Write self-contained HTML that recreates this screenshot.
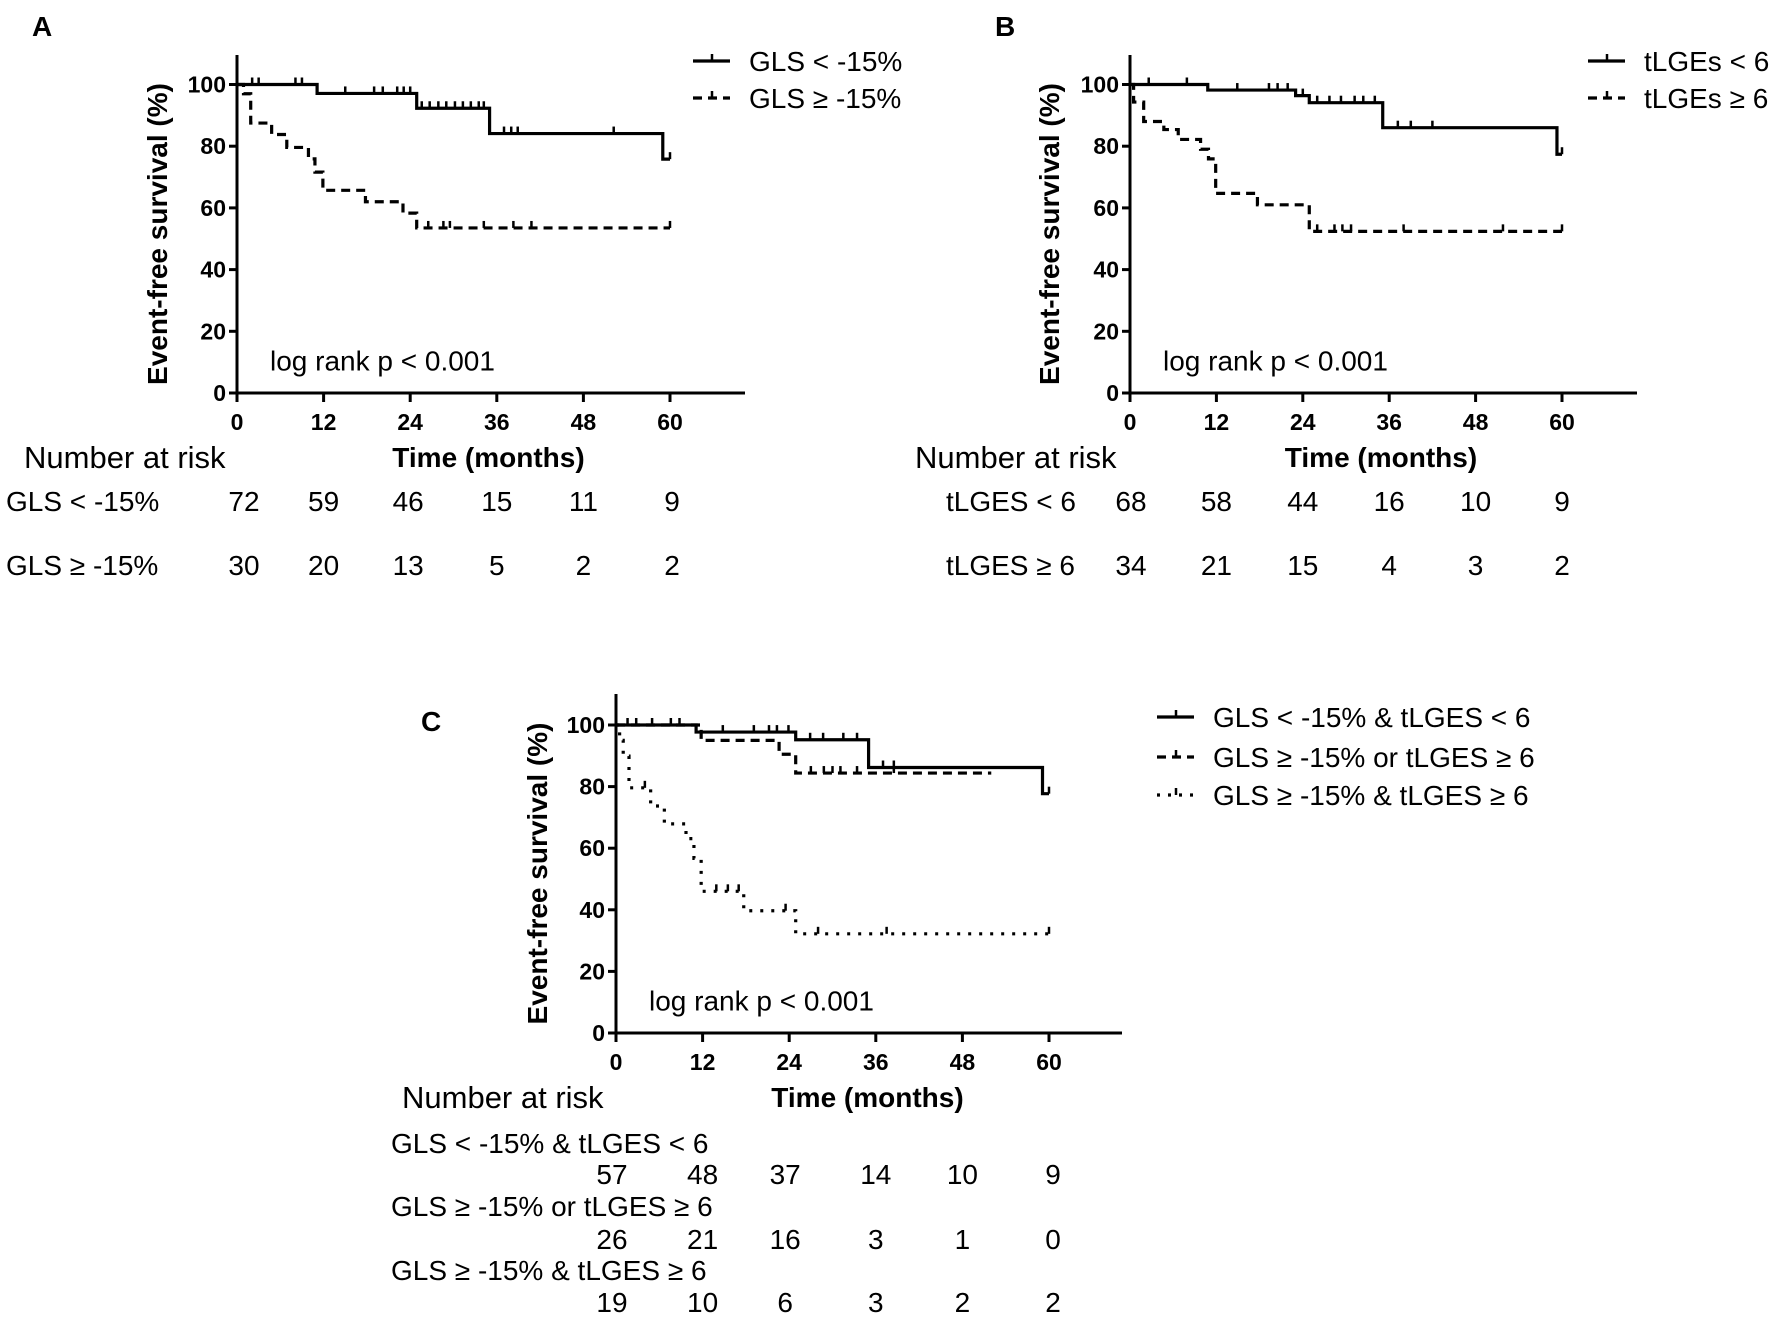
<!DOCTYPE html>
<html><head><meta charset="utf-8"><style>
html,body{margin:0;padding:0;background:#fff;}
svg{display:block;font-family:"Liberation Sans",Arial,sans-serif;}
.tk{font-weight:bold;font-size:23px;}
.tt{font-weight:bold;font-size:28px;}
.tx{font-size:28px;}
.lt{font-size:31px;}
.lg{font-size:28px;font-weight:bold;}
</style></head><body>
<svg id="fig" width="1772" height="1320" viewBox="0 0 1772 1320" xmlns="http://www.w3.org/2000/svg"></svg>
<script>
// ---- Panel A data ----
const aSolidT = [0, 11.1, 24.9, 35, 59];
const aSolidS = [100, 97.1, 92.3, 84.1, 75.8];
const aSolidEnd = 60;
const aSolidC = [2.1, 3, 8.1, 9, 15, 19, 20.2, 22.2, 23.1, 24, 25.6, 26.7, 27.9, 29, 30.2, 31.3, 32.4, 33.5, 34.2, 37, 38, 38.9, 52.2, 60];
const aDashT = [0, 0.9, 1.9, 4.8, 6.9, 9.9, 10.8, 11.9, 17.8, 23, 24.9];
const aDashS = [100, 97, 87.5, 83.8, 79.6, 75.9, 71.6, 65.7, 62, 58.3, 53.5];
const aDashEnd = 60;
const aDashC = [26.5, 28.6, 29.5, 34.2, 38.3, 40.8, 60];
// ---- Panel B data ----
const bSolidT = [0, 10.8, 23, 24.9, 35.1, 59.3];
const bSolidS = [100, 98.2, 96.4, 94.1, 86, 77.4];
const bSolidEnd = 60;
const bSolidC = [2.6, 7.9, 14.9, 19.3, 20.5, 21.9, 24, 26, 27.7, 29.3, 31.2, 32.4, 34, 37.2, 39, 42, 60];
const bDashT = [0, 0.5, 1.9, 4.7, 6.7, 9.8, 10.9, 11.9, 17.7, 24.9];
const bDashS = [100, 94.3, 88, 85.4, 82.2, 79, 75.9, 64.7, 61, 52.4];
const bDashEnd = 60;
const bDashC = [26, 28.4, 29.5, 30.7, 38, 51.8, 60];
// ---- Panel C data ----
const cSolidT = [0, 11.1, 24.9, 35, 59.1];
const cSolidS = [100, 97.7, 95.2, 86.2, 77.7];
const cSolidEnd = 60;
const cSolidC = [1.6, 2.8, 5, 7.6, 8.8, 14.8, 19.1, 21.2, 22.3, 23.9, 26.9, 28.7, 31.5, 33.4, 37, 38.5, 60];
const cDashT = [0, 11.8, 22.6, 24.9];
const cDashS = [100, 95, 90.5, 84.4];
const cDashEnd = 52;
const cDashC = [27, 28.8, 30, 31.1, 33.4, 38.5];
const cDotT = [0, 0.5, 1, 1.8, 4.8, 6.7, 9.7, 10.8, 11.8, 17.7, 24.9];
const cDotS = [100, 95, 89.9, 79.6, 73.7, 67.9, 63.1, 56.7, 46, 39.7, 32.2];
const cDotEnd = 60;
const cDotC = [4, 13.9, 15.5, 17, 23.5, 28, 37.5, 60];
// ---- axis tick labels ----
const xTicks = [0, 12, 24, 36, 48, 60];
const yTicks = [0, 20, 40, 60, 80, 100];
// ---- number at risk ----
const riskA1 = [72, 59, 46, 15, 11, 9];
const riskA2 = [30, 20, 13, 5, 2, 2];
const riskB1 = [68, 58, 44, 16, 10, 9];
const riskB2 = [34, 21, 15, 4, 3, 2];
const riskC1 = [57, 48, 37, 14, 10, 9];
const riskC2 = [26, 21, 16, 3, 1, 0];
const riskC3 = [19, 10, 6, 3, 2, 2];

const NS = "http://www.w3.org/2000/svg";
const svg = document.getElementById('fig');
function mk(tag, attrs, parent, text){
  const e = document.createElementNS(NS, tag);
  for (const k in attrs) e.setAttribute(k, attrs[k]);
  if (text !== undefined) e.textContent = text;
  (parent || svg).appendChild(e);
  return e;
}
const DASH = {solid: null, dash: "9 6", dot: "3 8"};

function panel(p){
  const g = mk('g', {});
  
  
  const sx = t => p.x0 + t * (p.x60 - p.x0) / 60;
  const sy = v => p.y0 - v * (p.y0 - p.y100) / 100;
  const ax = mk('path', {d: `M${p.x0},${p.top} V${p.y0} H${p.xend}`, fill:'none', stroke:'#000', 'stroke-width':3}, g);
  
  
  yTicks.forEach(v => {
    mk('line', {x1:p.x0-8, x2:p.x0, y1:sy(v), y2:sy(v), stroke:'#000','stroke-width':3}, g);
    const t = mk('text', {x:p.x0-11, y:sy(v)+8, 'text-anchor':'end', class:'tk'}, g, v);
    
    
  });
  xTicks.forEach(v => {
    mk('line', {x1:sx(v), x2:sx(v), y1:p.y0, y2:p.y0+9, stroke:'#000','stroke-width':3}, g);
    const t = mk('text', {x:sx(v), y:p.y0+37, 'text-anchor':'middle', class:'tk'}, g, v);
    
    
  });
  const yt = mk('text', {x:0, y:0, 'text-anchor':'middle', class:'tt', transform:`translate(${p.ytx},${(p.y0+p.top)/2+10}) rotate(-90)`}, g, 'Event-free survival (%)');
  
  
  const xt = mk('text', {x:(p.x0+p.x60)/2+35, y:p.y0+74, 'text-anchor':'middle', class:'tt'}, g, 'Time (months)');
  
  
  const lr = mk('text', {x:p.x0+33, y:sy(8)+2, class:'tx'}, g, 'log rank p < 0.001');
  
  
  const lt = mk('text', {x:p.lx, y:p.ly, class:'lg'}, g, p.letter);
  
  

  p.series.forEach((s, i) => {
    let d = `M${sx(s.T[0])},${sy(s.S[0])}`;
    for (let k = 1; k < s.T.length; k++){
      d += ` H${sx(s.T[k])} V${sy(s.S[k])}`;
    }
    d += ` H${sx(s.end)}`;
    const a = {d, fill:'none', stroke:'#000', 'stroke-width':3.2};
    if (DASH[s.style]) a['stroke-dasharray'] = DASH[s.style];
    const path = mk('path', a, g);
    
    
    s.C.forEach(c => {
      let v = s.S[0];
      for (let k = 0; k < s.T.length; k++) if (s.T[k] <= c) v = s.S[k];
      const m = mk('line', {x1:sx(c), x2:sx(c), y1:sy(v), y2:sy(v)-7, stroke:'#000','stroke-width':2.5}, g);
      
      
    });
    const ly = p.legY[i];
    const la = {x1:p.legX, x2:p.legX+37, y1:ly, y2:ly, stroke:'#000','stroke-width':3.2};
    if (DASH[s.style]) la['stroke-dasharray'] = DASH[s.style];
    const ll = mk('line', la, g);
    
    
    mk('line', {x1:p.legX+19, x2:p.legX+19, y1:ly, y2:ly-7, stroke:'#000','stroke-width':2.5}, g);
    const tx = mk('text', {x:p.legX+56, y:ly+10, class:'tx'}, g, s.label);
    
    
  });

  const nr = mk('text', {x:p.nrx, y:p.y0+75, class:'lt'}, g, 'Number at risk');
  
  
  p.risk.forEach(r => {
    const rl = mk('text', {x:r.lx, y:r.ly, class:'tx'}, g, r.label);
    
    
    r.vals.forEach((v, k) => {
      const t = mk('text', {x:sx(xTicks[k]) + p.riskDx[k], y:r.ny, 'text-anchor':'middle', class:'tx'}, g, v);
      
      
    });
  });
}

panel({name:'panel-a', letter:'A', lx:32, ly:36, x0:237, x60:670, xend:745, top:55, y100:84.5, y0:393, ytx:167,
  legX:693, legY:[61, 98], nrx:24, riskDx:[7,0,-2,0,0,2],
  series:[
    {id:'gls-low', T:aSolidT, S:aSolidS, end:aSolidEnd, C:aSolidC, style:'solid', label:'GLS < -15%'},
    {id:'gls-high', T:aDashT, S:aDashS, end:aDashEnd, C:aDashC, style:'dash', label:'GLS \u2265 -15%'}],
  risk:[
    {label:'GLS < -15%', lx:6, ly:511, ny:511, vals:riskA1},
    {label:'GLS \u2265 -15%', lx:6, ly:575, ny:575, vals:riskA2}]
});
panel({name:'panel-b', letter:'B', lx:995, ly:36, x0:1130, x60:1562, xend:1637, top:55, y100:84.5, y0:393, ytx:1059,
  legX:1588, legY:[61, 98], nrx:915, riskDx:[1,0,0,0,0,0],
  series:[
    {id:'tlges-low', T:bSolidT, S:bSolidS, end:bSolidEnd, C:bSolidC, style:'solid', label:'tLGEs < 6'},
    {id:'tlges-high', T:bDashT, S:bDashS, end:bDashEnd, C:bDashC, style:'dash', label:'tLGEs \u2265 6'}],
  risk:[
    {label:'tLGES < 6', lx:946, ly:511, ny:511, vals:riskB1},
    {label:'tLGES \u2265 6', lx:946, ly:575, ny:575, vals:riskB2}]
});
panel({name:'panel-c', letter:'C', lx:421, ly:731, x0:616, x60:1049, xend:1122, top:694, y100:725, y0:1033, ytx:547,
  legX:1157, legY:[717, 757, 795], nrx:402, riskDx:[-4,0,-4,0,0,4],
  series:[
    {id:'both-low', T:cSolidT, S:cSolidS, end:cSolidEnd, C:cSolidC, style:'solid', label:'GLS < -15% & tLGES < 6'},
    {id:'either-high', T:cDashT, S:cDashS, end:cDashEnd, C:cDashC, style:'dash', label:'GLS \u2265 -15% or tLGES \u2265 6'},
    {id:'both-high', T:cDotT, S:cDotS, end:cDotEnd, C:cDotC, style:'dot', label:'GLS \u2265 -15% & tLGES \u2265 6'}],
  risk:[
    {label:'GLS < -15% & tLGES < 6', lx:391, ly:1153, ny:1184, vals:riskC1},
    {label:'GLS \u2265 -15% or tLGES \u2265 6', lx:391, ly:1216, ny:1249, vals:riskC2},
    {label:'GLS \u2265 -15% & tLGES \u2265 6', lx:391, ly:1280, ny:1312, vals:riskC3}]
});
</script>
</body></html>
